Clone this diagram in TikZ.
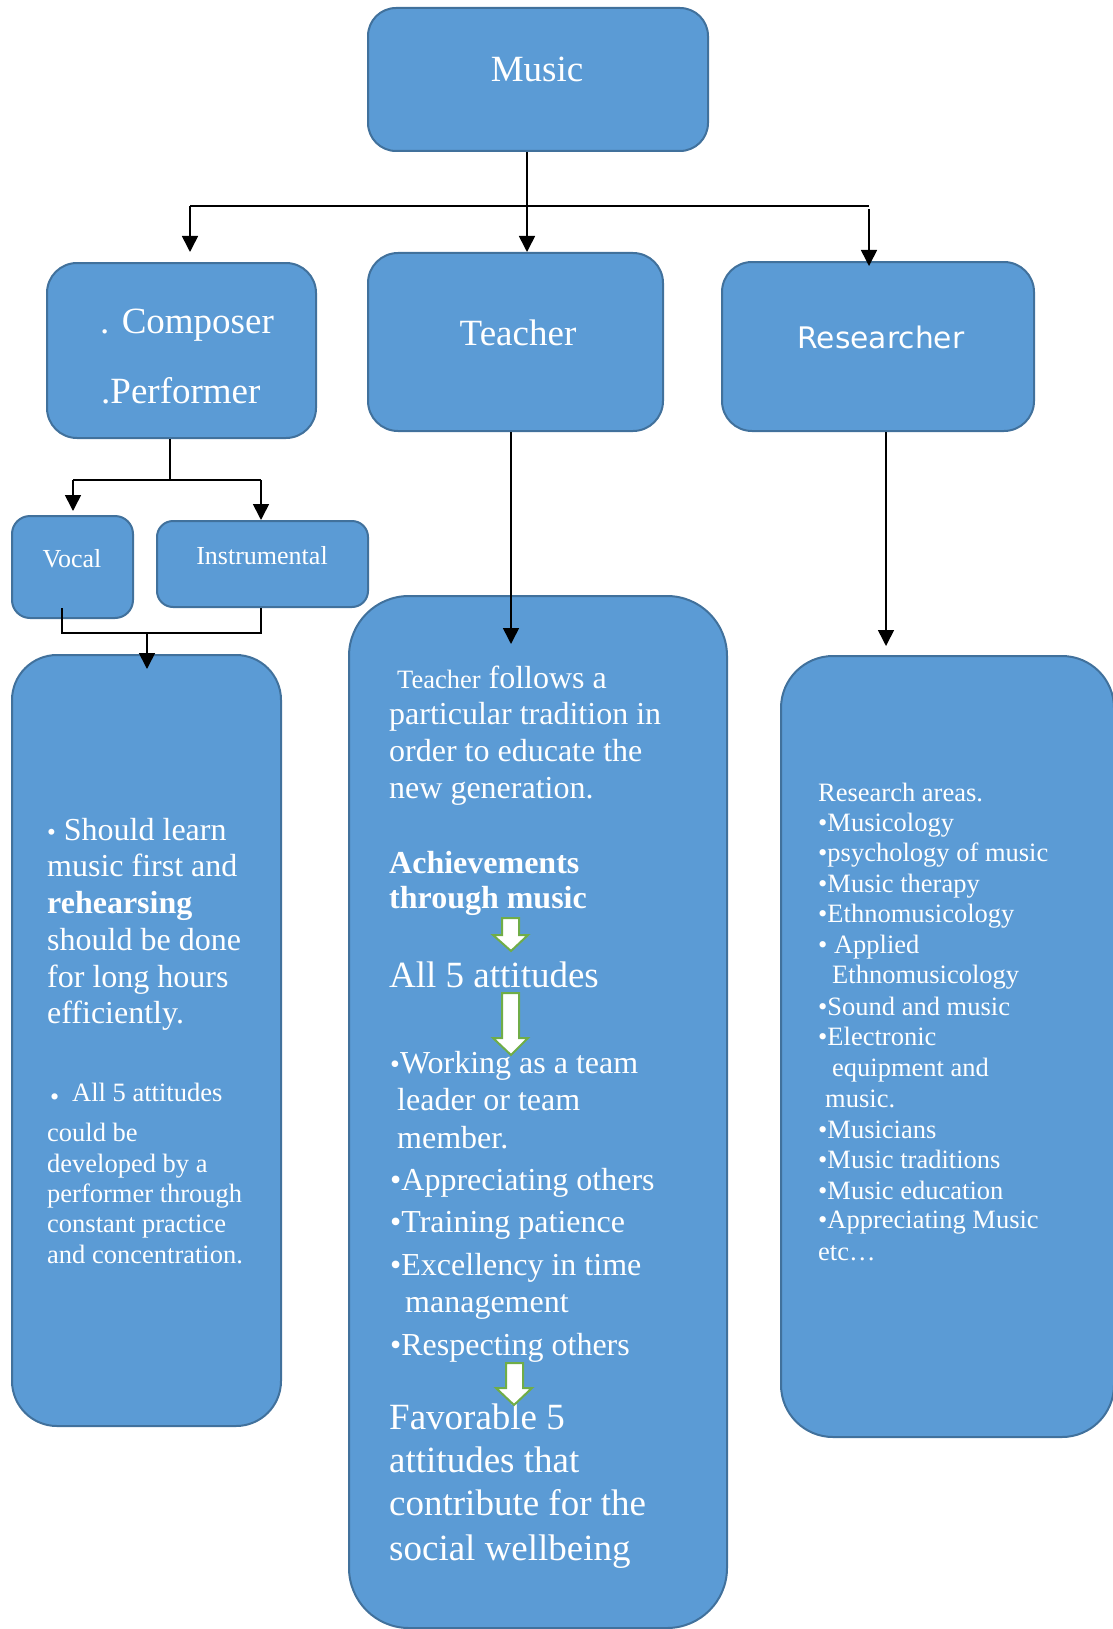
\documentclass[tikz,border=0pt]{standalone}
\usepackage{fontspec}
\setmainfont{Liberation Serif}
\newfontfamily\dejavu{DejaVu Sans}
\usetikzlibrary{arrows.meta}
\newcommand\setfs[1]{\fontsize{#1}{#1}\selectfont}
\definecolor{boxfill}{HTML}{5B9BD5}
\definecolor{boxline}{HTML}{41719C}
\definecolor{arrowgreen}{HTML}{70AD47}
\tikzset{
  box/.style={draw=boxline, fill=boxfill, line width=2pt, inner sep=0pt, rectangle},
  conn/.style={draw=black, line width=1.6pt},
  thinconn/.style={draw=black, line width=1.3pt},
  arr/.style={conn, -{Triangle[width=16pt,length=16pt]}},
  txt/.style={text=white, inner sep=0pt, anchor=base west},
  ctxt/.style={text=white, inner sep=0pt, anchor=base},
  garrow/.style={draw=arrowgreen, fill=white, line width=2pt, line join=miter},
}
\begin{document}
\begin{tikzpicture}[x=1pt,y=-1pt]
\useasboundingbox (0,0) rectangle (1112,1629);
% boxes
\node[box, rounded corners=28pt, minimum width=340pt, minimum height=143pt] (music) at (538,79.5) {};
\node[box, rounded corners=30pt, minimum width=269pt, minimum height=175pt] (composer) at (181.5,350.5) {};
\node[box, rounded corners=30pt, minimum width=295pt, minimum height=178pt] (teacher) at (515.5,342) {};
\node[box, rounded corners=30pt, minimum width=312pt, minimum height=169pt] (researcher) at (878,346.5) {};
\node[box, rounded corners=18pt, minimum width=121pt, minimum height=102pt] (vocal) at (72.5,567) {};
\node[box, rounded corners=16pt, minimum width=211pt, minimum height=86pt] (instrumental) at (262.5,564) {};
\node[box, rounded corners=45pt, minimum width=269pt, minimum height=771pt] (leftbig) at (146.5,1040.5) {};
\node[box, rounded corners=60pt, minimum width=378pt, minimum height=1032pt] (teachbig) at (538,1112) {};
\node[box, rounded corners=52pt, minimum width=333pt, minimum height=781pt] (resbig) at (947.5,1046.5) {};
% connectors
\coordinate (j1) at (527,206);
\coordinate (jl) at (190,206);
\coordinate (jr) at (869,206);
\draw[conn] (j1 |- music.south) -- (j1);
\draw[conn] (jl) -- (jr);
\draw[arr] (jl) -- ([yshift=10pt]jl |- composer.north);
\draw[arr] (j1) -- (j1 |- teacher.north);
\draw[arr] ([yshift=-3pt]jr) -- ([yshift=-5pt]jr |- researcher.north);
\coordinate (cj) at (170,480);
\coordinate (vj) at (73,480);
\coordinate (ij) at (261,480);
\draw[conn] (cj |- composer.south) -- (cj);
\draw[conn] (vj) -- (ij);
\draw[arr] (vj) -- ([yshift=4pt]vj |- vocal.north);
\draw[arr] (ij) -- (ij |- instrumental.north);
\coordinate (bl) at (62,633);
\coordinate (br) at (261,633);
\coordinate (bj) at (147,633);
\draw[thinconn] ([yshift=11pt]bl |- vocal.south) -- (bl) -- (br) -- (br |- instrumental.south);
\draw[arr] (bj) -- ([yshift=-15pt]bj |- leftbig.north);
\coordinate (tj) at (511,644);
\draw[arr] (tj |- teacher.south) -- (tj);
\coordinate (rj) at (886,646);
\draw[arr] (rj |- researcher.south) -- (rj);
% titles
\node[ctxt, font=\setfs{37}] (tmusic) at (537,82) {Music};
\node[txt, font=\setfs{37}] (tcomp) at (100,333) {. Composer};
\node[txt, font=\setfs{37}] (tperf) at (101,403) {.Performer};
\node[ctxt, font=\setfs{37}] (tteach) at (518,345) {Teacher};
\node[ctxt, font=\dejavu\setfs{29.7}] (tres) at (881,348) {Researcher};
\node[ctxt, font=\setfs{26}] (tvocal) at (72,567) {Vocal};
\node[ctxt, font=\setfs{26}] (tinst) at (262,564) {Instrumental};
% left box text
\node[txt, font=\setfs{32}] (l1) at (47,840) {{\setfs{25}•} Should learn};
\node[txt, font=\setfs{32}] (l2) at (47,876) {music first and};
\node[txt, font=\setfs{32}\bfseries] (l3) at (47,913) {rehearsing};
\node[txt, font=\setfs{32}] (l4) at (47,950) {should be done};
\node[txt, font=\setfs{32}] (l5) at (47,987) {for long hours};
\node[txt, font=\setfs{32}] (l6) at (47,1023) {efficiently.};
\node[txt, font=\setfs{26}] (lb) at (50,1105) {•};
\node[txt, font=\setfs{26.5}] (l7) at (72,1101) {All 5 attitudes};
\node[txt, font=\setfs{26.5}] (l8) at (47,1141) {could be};
\node[txt, font=\setfs{26.5}] (l9) at (47,1172) {developed by a};
\node[txt, font=\setfs{26.5}] (l10) at (47,1202) {performer through};
\node[txt, font=\setfs{26.5}] (l11) at (47,1232) {constant practice};
\node[txt, font=\setfs{26.5}] (l12) at (47,1263) {and concentration.};
% teacher box text
\node[txt, font=\setfs{32}] (m1) at (397,688) {{\setfs{26.5}Teacher} follows a};
\node[txt, font=\setfs{32}] (m2) at (389,724) {particular tradition in};
\node[txt, font=\setfs{32}] (m3) at (389,761) {order to educate the};
\node[txt, font=\setfs{32}] (m4) at (389,798) {new generation.};
\node[txt, font=\setfs{32}\bfseries] (m5) at (389,873) {Achievements};
\node[txt, font=\setfs{32}\bfseries] (m6) at (389,908) {through music};
\node[txt, font=\setfs{37}] (m7) at (389,987) {All 5 attitudes};
\node[txt, font=\setfs{32}] (m8) at (390,1073) {{\setfs{28}•}Working as a team};
\node[txt, font=\setfs{32}] (m9) at (397,1110) {leader or team};
\node[txt, font=\setfs{32}] (m10) at (397,1148) {member.};
\node[txt, font=\setfs{32}] (m11) at (390,1190) {•Appreciating others};
\node[txt, font=\setfs{32}] (m12) at (390,1232) {•Training patience};
\node[txt, font=\setfs{32}] (m13) at (390,1275) {•Excellency in time};
\node[txt, font=\setfs{32}] (m14) at (405,1312) {management};
\node[txt, font=\setfs{32}] (m15) at (390,1355) {•Respecting others};
\node[txt, font=\setfs{37}] (m16) at (389,1429) {Favorable 5};
\node[txt, font=\setfs{37}] (m17) at (389,1472) {attitudes that};
\node[txt, font=\setfs{37}] (m18) at (389,1515) {contribute for the};
\node[txt, font=\setfs{37}] (m19) at (389,1560) {social wellbeing};
% green block arrows
\path[garrow] (502,918) -- (519,918) -- (519,935) -- (528,935) -- (511,951) -- (493,935) -- (502,935) -- cycle;
\path[garrow] (502,993) -- (519,993) -- (519,1038) -- (528,1038) -- (511,1055) -- (493,1038) -- (502,1038) -- cycle;
\path[garrow] (506,1363) -- (523,1363) -- (523,1388) -- (532,1388) -- (514,1405) -- (496,1388) -- (506,1388) -- cycle;
% researcher box text
\node[txt, font=\setfs{26.5}] (r1) at (818,801) {Research areas.};
\node[txt, font=\setfs{26.5}] (r2) at (818,831) {•Musicology};
\node[txt, font=\setfs{26.5}] (r3) at (818,861) {•psychology of music};
\node[txt, font=\setfs{26.5}] (r4) at (818,892) {•Music therapy};
\node[txt, font=\setfs{26.5}] (r5) at (818,922) {•Ethnomusicology};
\node[txt, font=\setfs{26.5}] (r6) at (818,953) {• Applied};
\node[txt, font=\setfs{26.5}] (r7) at (832,983) {Ethnomusicology};
\node[txt, font=\setfs{26.5}] (r8) at (818,1015) {•Sound and music};
\node[txt, font=\setfs{26.5}] (r9) at (818,1045) {•Electronic};
\node[txt, font=\setfs{26.5}] (r10) at (832,1076) {equipment and};
\node[txt, font=\setfs{26.5}] (r11) at (825,1107) {music.};
\node[txt, font=\setfs{26.5}] (r12) at (818,1138) {•Musicians};
\node[txt, font=\setfs{26.5}] (r13) at (818,1168) {•Music traditions};
\node[txt, font=\setfs{26.5}] (r14) at (818,1199) {•Music education};
\node[txt, font=\setfs{26.5}] (r15) at (818,1228) {•Appreciating Music};
\node[txt, font=\setfs{26.5}] (r16) at (818,1260) {etc…};
\end{tikzpicture}
\end{document}
